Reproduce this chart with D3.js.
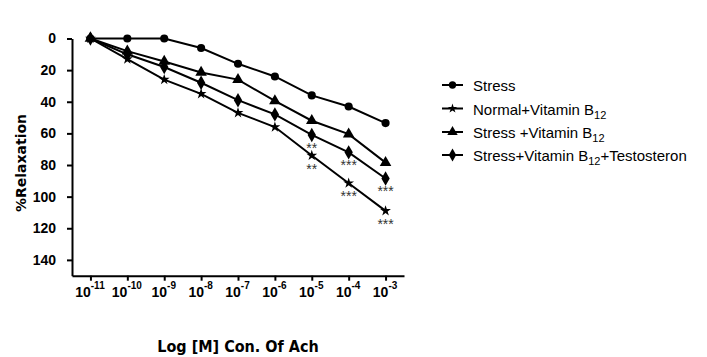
<!DOCTYPE html>
<html>
<head>
<meta charset="utf-8">
<script src="https://cdn.jsdelivr.net/npm/d3@7"></script>
<style>
  body { margin: 0; background: #fff; }
  svg { display: block; }
  .axis path, .axis line { stroke: #000; stroke-width: 2; }
  .axis text { font-family: "Liberation Sans Narrow", "Arial Narrow", sans-serif; font-weight: bold; font-size: 14px; fill: #000; }
</style>
</head>
<body>
<div id="chart"></div>
<script>
// log10 of ACh concentration
const exponents = [-11, -10, -9, -8, -7, -6, -5, -4, -3];
const yTicks = [0, 20, 40, 60, 80, 100, 120, 140];

const stress       = [0, 0, 0, 6, 16, 24, 36, 43, 53.5];
const normalB12    = [0, 13, 26, 35, 47, 56, 74, 91.5, 109];
const stressB12    = [0, 8, 14.5, 21.5, 26, 39.5, 52, 60.5, 78.5];
const stressB12T   = [0, 10, 18, 28, 39, 48, 61, 72, 88.5];

const seriesNames = ["Stress", "Normal+Vitamin B", "Stress +Vitamin B", "Stress+Vitamin B"];
const seriesSubs  = [null, "12", "12", "12"];
const seriesTails = ["", "", "", "+Testosteron"];

// significance marks: [series index, point index, text]
const marks = [
  [3, 6, "**"], [1, 6, "**"],
  [3, 7, "***"], [1, 7, "***"],
  [3, 8, "***"], [1, 8, "***"]
];

const series = [stress, normalB12, stressB12, stressB12T];
const symbols = [d3.symbolCircle, d3.symbolStar, d3.symbolTriangle, d3.symbolDiamond];
const symSize = [52, 36, 58, 60];

const narrow = "Liberation Sans Narrow, Arial Narrow, sans-serif";

const W = 707, H = 357;
const svg = d3.select("#chart").append("svg")
  .attr("width", W).attr("height", H);

const x = d3.scaleLinear().domain([-11.5, -2.5]).range([72, 404]);
const y = d3.scaleLinear().domain([0, 150]).range([38.5, 275.7]);

// y axis
svg.append("g")
  .attr("class", "axis")
  .attr("transform", "translate(72,0)")
  .call(d3.axisLeft(y).tickValues(yTicks).tickSize(5).tickSizeOuter(0).tickPadding(11));

// x axis
const xAxis = svg.append("g")
  .attr("class", "axis")
  .attr("transform", "translate(0," + y.range()[1] + ")")
  .call(d3.axisBottom(x).tickValues(exponents).tickSize(5).tickSizeOuter(0).tickFormat(""));

xAxis.selectAll(".tick").append("text")
  .attr("y", 21)
  .attr("x", -1)
  .attr("text-anchor", "middle")
  .each(function(d) {
    const t = d3.select(this);
    t.append("tspan").text("10");
    t.append("tspan").attr("dy", -8).attr("font-size", "10px").text(d);
  });

// lines and markers
const line = d3.line()
  .x((d, i) => x(exponents[i]))
  .y(d => y(d));

series.forEach((s, k) => {
  svg.append("path")
    .datum(s)
    .attr("d", line)
    .attr("fill", "none")
    .attr("stroke", "#000")
    .attr("stroke-width", 2);

  svg.selectAll(".pt" + k)
    .data(s)
    .enter()
    .append("path")
    .attr("class", "pt" + k)
    .attr("transform", (d, i) => "translate(" + x(exponents[i]) + "," + y(d) + ")")
    .attr("d", d3.symbol().type(symbols[k]).size(symSize[k]))
    .attr("fill", "#000");
});

// significance asterisks
svg.selectAll(".sig")
  .data(marks)
  .enter()
  .append("text")
  .attr("class", "sig")
  .attr("x", d => x(exponents[d[1]]))
  .attr("y", d => y(series[d[0]][d[1]]) + 18)
  .attr("text-anchor", "middle")
  .attr("font-family", "Liberation Sans, Arial, sans-serif")
  .attr("font-size", "14px")
  .attr("fill", "#333")
  .text(d => d[2]);

// legend
const legendY = [85, 108.5, 132, 155];
const legend = svg.append("g");
seriesNames.forEach((name, k) => {
  const g = legend.append("g").attr("transform", "translate(0," + legendY[k] + ")");
  g.append("line")
    .attr("x1", 442).attr("x2", 463)
    .attr("stroke", "#000").attr("stroke-width", 2);
  g.append("path")
    .attr("transform", "translate(452.5,0)")
    .attr("d", d3.symbol().type(symbols[k]).size(symSize[k] * 0.8))
    .attr("fill", "#000");
  const t = g.append("text")
    .attr("x", 473).attr("y", 6)
    .attr("font-family", narrow)
    .attr("font-size", "15px")
    .attr("fill", "#000");
  t.append("tspan").text(name);
  if (seriesSubs[k]) {
    t.append("tspan").attr("dy", 4).attr("font-size", "11px").text(seriesSubs[k]);
    if (seriesTails[k]) t.append("tspan").attr("dy", -4).text(seriesTails[k]);
  }
});

// axis titles
svg.append("text")
  .attr("x", 238).attr("y", 352)
  .attr("text-anchor", "middle")
  .attr("font-family", "DejaVu Sans Condensed, DejaVu Sans, sans-serif")
  .attr("font-stretch", "condensed")
  .attr("font-weight", "bold")
  .attr("font-size", "16px")
  .text("Log [M] Con. Of Ach");

svg.append("text")
  .attr("transform", "translate(26,163) rotate(-90)")
  .attr("text-anchor", "middle")
  .attr("font-family", "DejaVu Sans, Verdana, sans-serif")
  .attr("font-weight", "bold")
  .attr("font-size", "14px")
  .text("%Relaxation");
</script>
</body>
</html>
